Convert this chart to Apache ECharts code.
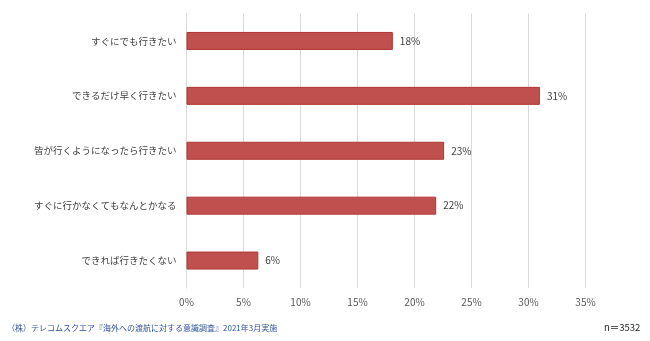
<!DOCTYPE html>
<html><head><meta charset="utf-8">
<script src="https://cdn.jsdelivr.net/npm/echarts@6/dist/echarts.min.js"></script>
<style>html,body{margin:0;padding:0;background:#fff}#c{width:650px;height:341px}</style>
</head><body><div id="c"></div>
<script>
const categories = ['すぐにでも行きたい','できるだけ早く行きたい','皆が行くようになったら行きたい','すぐに行かなくてもなんとかなる','できれば行きたくない'];
const values = [18.1, 31.0, 22.6, 21.9, 6.3];
const valueLabels = ['18%','31%','23%','22%','6%'];
const tickValues = [0,5,10,15,20,25,30,35];
const sourceText = '（株）テレコムスクエア『海外への渡航に対する意識調査』2021年3月実施';
const nText = 'n＝3532';

const font = '"Noto Sans CJK JP", sans-serif';
const chart = echarts.init(document.getElementById('c'));
chart.setOption({
  animation: false,
  backgroundColor: '#fff',
  grid: {left: 186.5, right: 64.5, top: 13.5, bottom: 53},
  xAxis: {
    type: 'value', min: 0, max: 35, interval: 5,
    axisLine: {show: false}, axisTick: {show: false},
    splitLine: {show: true, lineStyle: {color: '#d9d9d9', width: 1}},
    axisLabel: {color: '#595959', fontSize: 10, fontFamily: font, margin: 9, formatter: v => v + '%'}
  },
  yAxis: {
    type: 'category', inverse: true, data: categories,
    axisLine: {show: true, lineStyle: {color: '#d9d9d9'}}, axisTick: {show: false},
    axisLabel: {color: '#404040', fontSize: 9.5, fontFamily: font, margin: 10}
  },
  series: [{
    type: 'bar', data: values, barWidth: 18,
    itemStyle: {color: '#c0504d', borderColor: '#b03532', borderWidth: 1},
    label: {show: true, position: 'right', distance: 7, color: '#404040', fontSize: 10, fontFamily: font,
      formatter: p => valueLabels[p.dataIndex]}
  }],
  graphic: [
    {type: 'text', left: 7, top: 324, style: {text: sourceText, fill: '#2f5597', fontSize: 8, fontFamily: font}},
    {type: 'text', left: 604, top: 323, style: {text: nText, fill: '#262626', fontSize: 9.5, fontFamily: font}}
  ]
});
</script></body></html>
